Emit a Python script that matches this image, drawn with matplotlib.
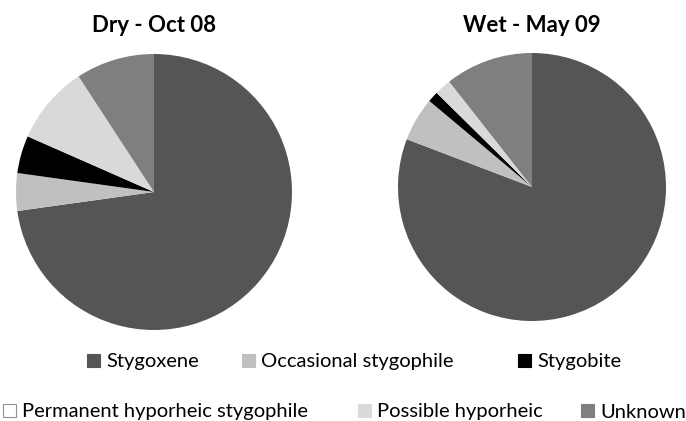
import matplotlib
matplotlib.use('Agg')
import matplotlib.pyplot as plt
from matplotlib.patches import Patch

plt.rcParams['font.family'] = ['Lato', 'DejaVu Sans']

# 各类群所占比例 (%)
categories = ['Stygoxene', 'Occasional stygophile', 'Stygobite',
              'Permanent hyporheic stygophile', 'Possible hyporheic', 'Unknown']
dry_oct08 = [72.8, 4.4, 4.4, 0.0, 9.2, 9.2]
wet_may09 = [80.8, 5.3, 1.3, 0.0, 2.0, 10.6]
titles = ['Dry - Oct 08', 'Wet - May 09']

colors = ['#555555', '#c0c0c0', '#000000', '#ffffff', '#d9d9d9', '#7f7f7f']

W, H = 686, 421
fig = plt.figure(figsize=(W / 100, H / 100), dpi=100)

# 饼图位置 (像素): 圆心x, 圆心y, 半径
pies = [(154, 192, 138, dry_oct08, titles[0]),
        (532, 187, 134, wet_may09, titles[1])]

for cx, cy, r, vals, title in pies:
    ax = fig.add_axes([(cx - r) / W, (H - cy - r) / H, 2 * r / W, 2 * r / H])
    ax.pie(vals, colors=colors, startangle=90, counterclock=False,
           wedgeprops=dict(linewidth=0))
    ax.set_xlim(-1, 1)
    ax.set_ylim(-1, 1)
    fig.text(cx / W, 1 - 26 / H, title, ha='center', va='center',
             fontsize=16, fontweight='bold')

handles = []
for c, lab in zip(colors, categories):
    ec = '#909090' if c == '#ffffff' else c
    handles.append(Patch(facecolor=c, edgecolor=ec, linewidth=0.8, label=lab))

# 图例每一项的位置 (像素): 方块左边x, 中心y
legend_pos = [(87, 362), (242, 362), (518, 362),
              (3, 412), (358, 412), (581, 412)]

for h, (lx, ly) in zip(handles, legend_pos):
    fig.legend(handles=[h], frameon=False, fontsize=14.5, loc='center left',
               handlelength=0.65, handleheight=0.65, handletextpad=0.3,
               borderpad=0, borderaxespad=0,
               bbox_to_anchor=(lx / W, 1 - ly / H))

fig.savefig('out.png', dpi=100)
